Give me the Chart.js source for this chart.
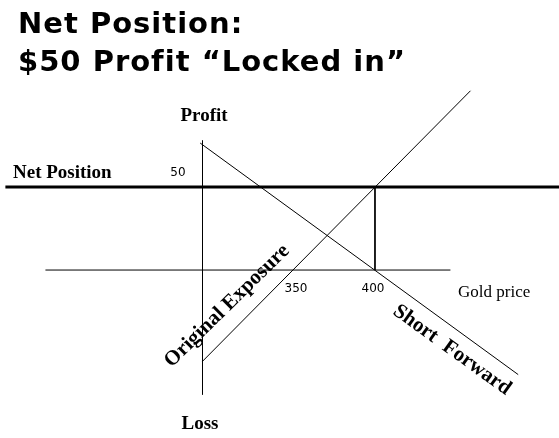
<!DOCTYPE html>
<html>
<head>
<meta charset="utf-8">
<script src="https://cdn.jsdelivr.net/npm/chart.js@4"></script>
<style>
  html, body { margin: 0; padding: 0; background: #fff; }
  #wrap { position: relative; width: 559px; height: 438px; }
  #title { position: absolute; left: 18px; top: 4px; font: bold 29px "DejaVu Sans", sans-serif; letter-spacing: 1px; line-height: 38px; color: #000; z-index: 2; }
  canvas { position: absolute; left: 0; top: 0; }
</style>
</head>
<body>
<div id="wrap">
  <div id="title">Net Position:<br>$50 Profit &#8220;Locked in&#8221;</div>
  <canvas id="c" width="559" height="438"></canvas>
</div>
<script>
// gold price (x) vs profit (y)
const netPosition = [{ x: 160, y: 50 }, { x: 519.5, y: 50 }];
const priceAxis = [{ x: 186, y: 0 }, { x: 449, y: 0 }];
const profitAxis = [{ x: 288, y: 78 }, { x: 288, y: -75 }];
const lockDrop = [{ x: 400, y: 50 }, { x: 400, y: 0 }];
const originalExposure = [{ x: 288, y: -55 }, { x: 462, y: 108 }];
const shortForward = [{ x: 286.5, y: 76.5 }, { x: 493, y: -63 }];
const tickLabels = [{ text: "350", x: 350 }, { text: "400", x: 400 }];
const profitTick = { text: "50", y: 50 };

function line(data, width) {
  return { data, borderColor: "#000", borderWidth: width || 1, pointRadius: 0, showLine: true, fill: false };
}

const labels = {
  id: "labels",
  afterDraw(chart) {
    const ctx = chart.ctx;
    const xs = chart.scales.x, ys = chart.scales.y;
    ctx.save();
    ctx.fillStyle = "#000";
    ctx.textBaseline = "middle";
    ctx.font = '12px "DejaVu Sans", sans-serif';
    ctx.textAlign = "center";
    tickLabels.forEach(t => ctx.fillText(t.text, xs.getPixelForValue(t.x) - 2, 289));
    ctx.fillText(profitTick.text, 178, ys.getPixelForValue(profitTick.y) - 14);
    ctx.font = 'bold 19px "Liberation Serif", serif';
    ctx.fillText("Profit", 204, 116);
    ctx.fillText("Loss", 200, 424);
    ctx.textAlign = "left";
    ctx.fillText("Net Position", 13, 173);
    ctx.font = '17px "Liberation Serif", serif';
    ctx.fillText("Gold price", 458, 293);
    ctx.font = 'bold 21px "Liberation Serif", serif';
    ctx.save();
    ctx.translate(227, 306);
    ctx.rotate(-Math.atan(0.98));
    ctx.textAlign = "center";
    ctx.fillText("Original Exposure", 0, 0);
    ctx.restore();
    ctx.save();
    ctx.translate(452, 350);
    ctx.rotate(Math.atan(0.72));
    ctx.textAlign = "center";
    ctx.fillText("Short  Forward", 0, 0);
    ctx.restore();
    ctx.restore();
  }
};

new Chart(document.getElementById("c"), {
  type: "scatter",
  data: {
    datasets: [
      line(netPosition, 3),
      line(priceAxis),
      line(profitAxis),
      line(lockDrop),
      line(originalExposure),
      line(shortForward)
    ]
  },
  options: {
    responsive: false,
    animation: false,
    layout: { padding: 0 },
    plugins: { legend: { display: false }, tooltip: { enabled: false } },
    scales: {
      x: { type: "linear", min: 156.5, max: 519.5, display: false },
      y: { type: "linear", min: -101.2, max: 162.7, display: false }
    }
  },
  plugins: [labels]
});
</script>
</body>
</html>
